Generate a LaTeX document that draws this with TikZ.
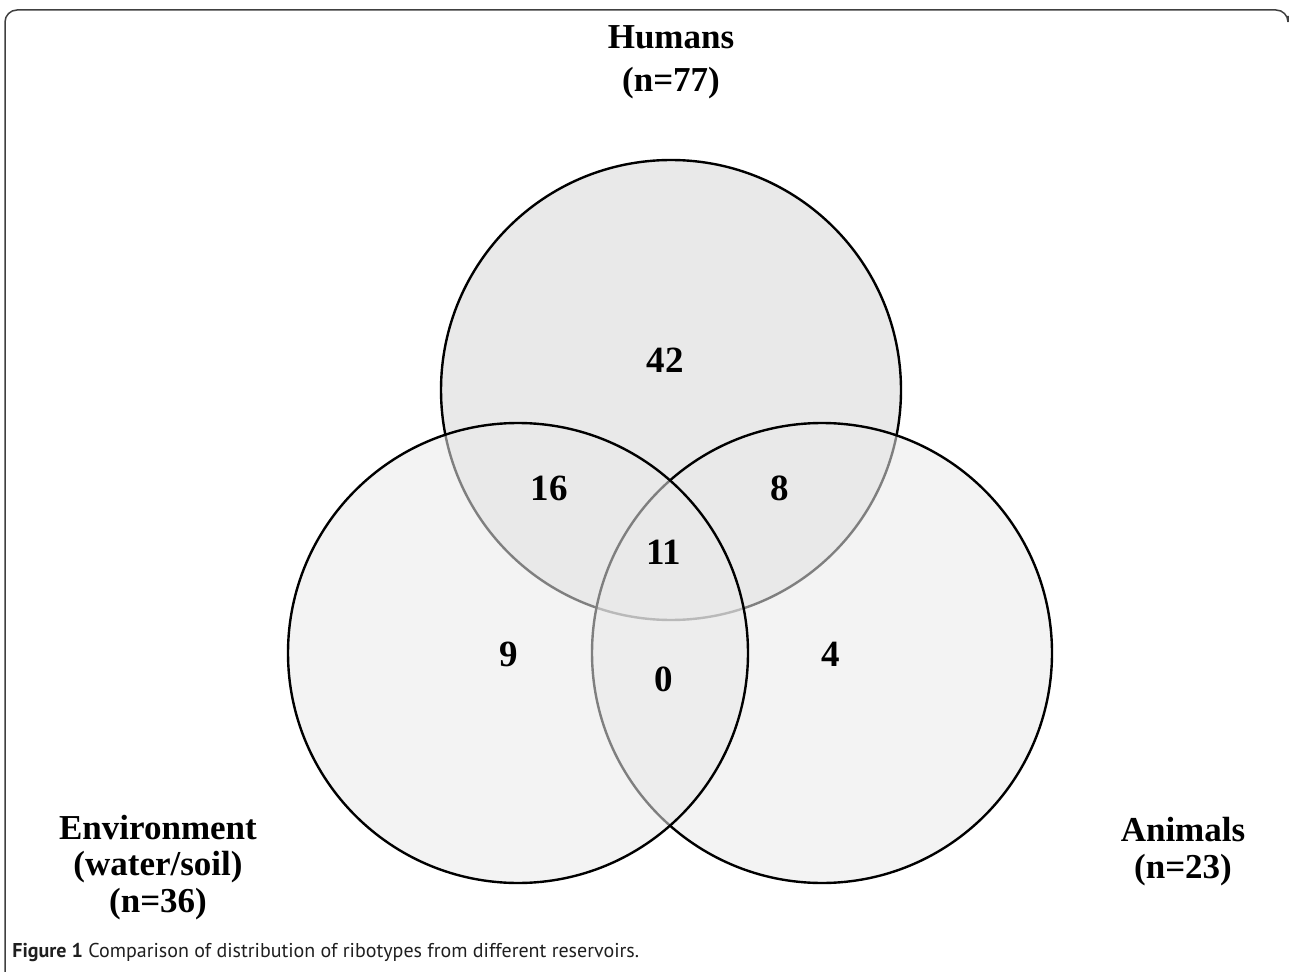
\documentclass[tikz,border=0pt]{standalone}
\usepackage{fontspec}
\setmainfont{Liberation Serif}
\newfontfamily\captionfont{PT Sans}
\usetikzlibrary{calc}

\definecolor{vennfill}{gray}{0.915}
\definecolor{framegray}{gray}{0.25}
\definecolor{captiongray}{gray}{0.12}

\tikzset{
    setcircle/.style = {draw = black, line width = 1.2pt, fill = vennfill},
    setlabel/.style = {align = center, inner sep = 0pt, font = \fontsize{17.5}{18.25}\selectfont\bfseries},
    countlabel/.style = {inner sep = 0pt, font = \fontsize{18.5}{21}\selectfont\bfseries}
}

\begin{document}
\begin{tikzpicture}[x = 0.5pt, y = 0.5pt]
                    \useasboundingbox (0, 0) rectangle (1290, 971);

                    \coordinate (humans) at (671, 581);
                    \coordinate (environment) at (518, 318);
                    \coordinate (animals) at (822, 318);

                    % figure frame
                    \draw[framegray, line width = 0.75pt, rounded corners = 6pt] (5, -10) -- (5, 961) -- (1288, 961) -- (1288, 955);

                    \filldraw[setcircle] (humans) circle [radius = 230];
                    \filldraw[setcircle, fill opacity = 0.55] (animals) circle [radius = 230];
                    \filldraw[setcircle, fill opacity = 0.55] (environment) circle [radius = 230];

                    \node[setlabel, font = \fontsize{17.5}{21.5}\selectfont\bfseries] (lab_h) at (671, 908.5) {Humans\\(n=77)};
                    \node[setlabel] (lab_e) at (158, 103.5) {Environment\\(water/soil)\\(n=36)};
                    \node[setlabel] (lab_a) at (1183, 119.5) {Animals\\(n=23)};

                    \node[countlabel] (n_h) at (665, 611) {42};
                    \node[countlabel] (n_he) at (549, 483) {16};
                    \node[countlabel] (n_ha) at (780, 483) {8};
                    \node[countlabel] (n_hea) at (664, 419) {11};
                    \node[countlabel] (n_e) at (509, 317) {9};
                    \node[countlabel] (n_ea) at (664, 292) {0};
                    \node[countlabel] (n_a) at (831, 317) {4};

                    \node[anchor = base west, inner sep = 0pt, text = captiongray, font = \captionfont\fontsize{10}{12}\selectfont] (caption) at (12, 14) {\textbf{Figure 1} Comparison of distribution of ribotypes from different reservoirs.};
                \end{tikzpicture}
\end{document}
